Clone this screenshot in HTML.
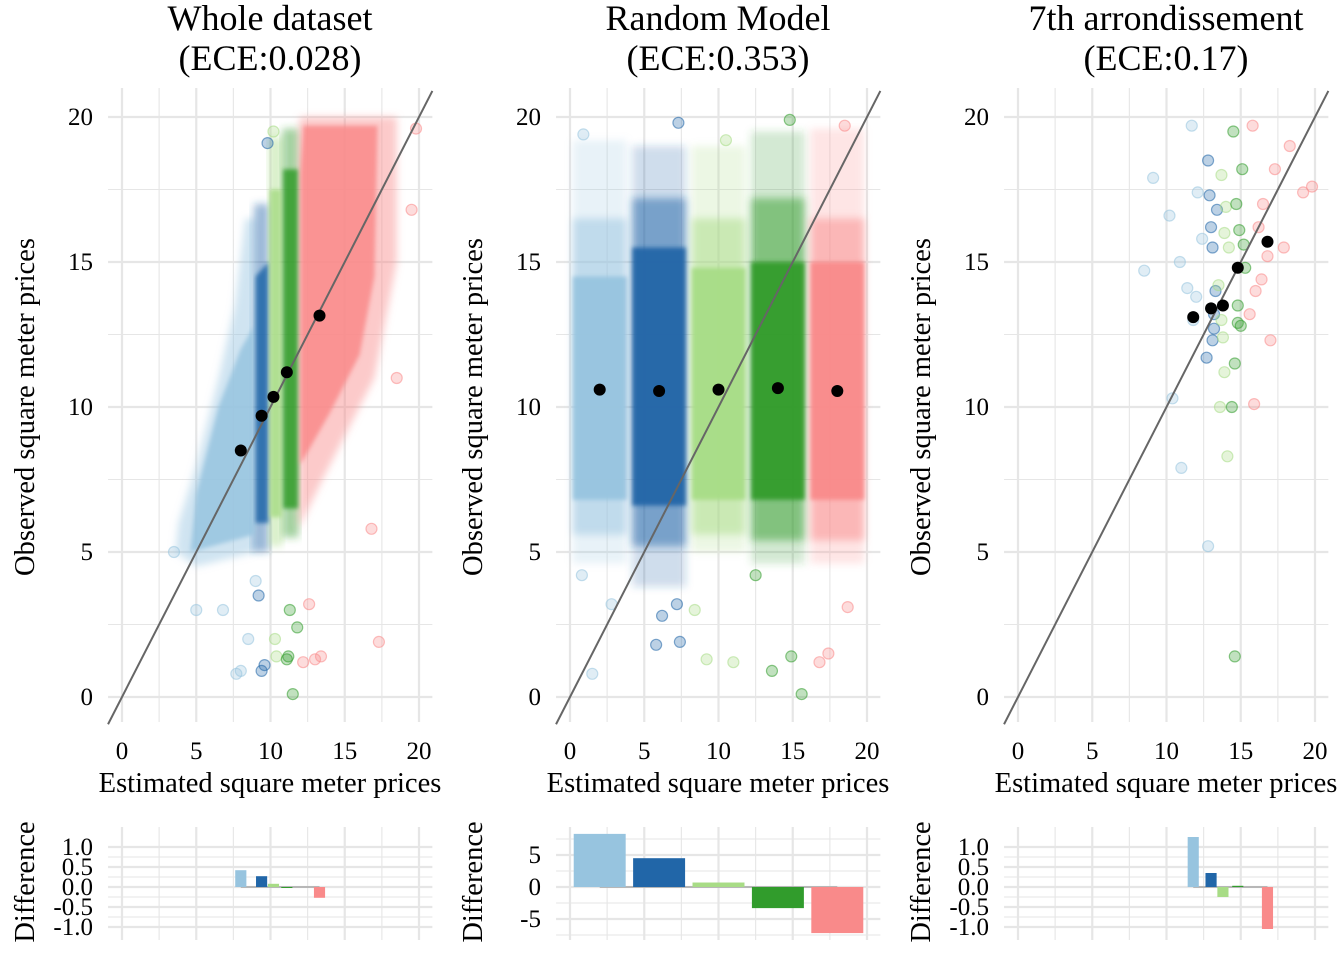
<!DOCTYPE html>
<html><head><meta charset="utf-8">
<style>
body{margin:0;background:#fff;}
svg{display:block;font-family:"Liberation Serif",serif;}
</style></head>
<body>
<svg id="chart" width="1344" height="960" viewBox="0 0 1344 960">
<defs>
<filter id="soft" x="-20%" y="-20%" width="140%" height="140%"><feGaussianBlur stdDeviation="4"/></filter>
<filter id="soft2" x="-20%" y="-20%" width="140%" height="140%"><feGaussianBlur stdDeviation="2"/></filter>
</defs>
</svg>
<script>
// ---------- data ----------
const panelTitles = ["Whole dataset","Random Model","7th arrondissement"];
const panelECE = ["(ECE:0.028)","(ECE:0.353)","(ECE:0.17)"];
const binColors = ["#97c4df","#2166a8","#a8dc86","#319c2c","#f98a8a"];
const xTicks = [0,5,10,15,20];
const yTicks = [0,5,10,15,20];
const meanX1 = [8.0,9.4,10.2,11.1,13.3];
const meanY1 = [8.5,9.7,10.35,11.2,13.15];
const meanX2 = [2,6,10,14,18];
const meanY2 = [10.6,10.55,10.6,10.65,10.55];
const meanX3 = [11.8,13.0,13.8,14.8,16.8];
const meanY3 = [13.1,13.4,13.5,14.8,15.7];
const diff1 = [0.42,0.27,0.08,-0.02,-0.27];
const diff2 = [8.3,4.5,0.7,-3.3,-7.2];
const diff3 = [1.25,0.35,-0.25,0.03,-1.05];
const diffTicks13 = [1.0,0.5,0.0,-0.5,-1.0];
const diffTicks2 = [5,0,-5];
// panel 1 cloud outlines (estimated, observed)
const cloud1 = [
 [[3.6,5.0],[5.0,4.5],[9.0,5.0],[9.0,16.5],[8.3,16.5],[7.6,13.5],[6.5,11.0],[5.0,8.0],[3.8,6.0]],
 [[8.8,5.0],[9.9,5.0],[9.9,17.0],[8.9,17.0]],
 [[9.9,5.2],[10.8,5.2],[10.8,19.3],[9.9,19.3]],
 [[10.8,5.5],[11.9,5.5],[11.9,19.6],[10.8,19.6]],
 [[11.9,5.8],[13.5,7.5],[15.0,9.0],[17.0,11.0],[18.5,15.0],[18.5,20.0],[12.0,20.0],[11.9,19.5]]
];
const cloud1core = [
 [[4.6,5.0],[8.9,5.6],[8.9,12.8],[8.0,12.0],[6.5,10.0],[5.0,7.0]],
 [[9.0,6.0],[9.85,6.0],[9.85,15.0],[9.0,14.5]],
 [[9.95,6.2],[10.75,6.2],[10.75,17.5],[9.95,17.5]],
 [[10.85,6.5],[11.85,6.5],[11.85,18.2],[10.85,18.2]],
 [[12.0,8.0],[14.0,9.8],[16.0,11.8],[17.0,14.5],[17.2,19.7],[12.2,19.7],[12.0,18.0]]
];
const bin2Lo = [0,4,8,12,16];
const bin2Hi = [4,8,12,16,20];
const core2Lo = [6.8,6.6,6.8,6.8,6.8];
const core2Hi = [14.5,15.5,14.8,15.0,15.0];
const mid2Lo = [5.6,5.2,5.6,5.4,5.4];
const mid2Hi = [16.5,17.2,16.5,17.2,16.5];
const fringe2Lo = [4.6,3.8,5.0,4.6,4.6];
const fringe2Hi = [19.2,19.0,19.0,19.5,19.6];
const out1Bin = [0,0,0,0,0,0,0,1,1,1,1,2,2,2,3,3,3,3,3,4,4,4,4,4,4,4,4,4];
const out1X =   [3.5,5.0,6.8,8.5,8.0,7.7,9.0,9.4,9.6,9.2,9.8,10.3,10.4,10.2,11.1,11.3,11.8,11.5,11.2,12.2,12.6,13.4,17.3,16.8,18.5,19.8,19.5,13.0];
const out1Y =   [5.0,3.0,3.0,2.0,0.9,0.8,4.0,0.9,1.1,3.5,19.1,2.0,1.4,19.5,1.3,3.0,2.4,0.1,1.4,1.2,3.2,1.4,1.9,5.8,11.0,19.6,16.8,1.3];
const out2Bin = [0,0,0,1,1,1,1,2,2,2,3,3,3,3,4,4,4,1,0,2,3,4];
const out2X =   [1.5,2.8,0.8,5.8,6.2,7.4,7.2,9.2,11.0,8.4,13.6,14.9,15.6,12.5,16.8,18.7,17.4,7.3,0.9,10.5,14.8,18.5];
const out2Y =   [0.8,3.2,4.2,1.8,2.8,1.9,3.2,1.3,1.2,3.0,0.9,1.4,0.1,4.2,1.2,3.1,1.5,19.8,19.4,19.2,19.9,19.7];
const p3Bin = [0,0,0,0,0,0,0,0,0,0,0,0,0,1,1,1,1,1,1,1,1,1,1,2,2,2,2,2,2,2,2,2,2,3,3,3,3,3,3,3,3,3,3,3,3,4,4,4,4,4,4,4,4,4,4,4,4,4,4];
const p3X = [8.5,9.1,10.2,11.7,12.1,12.4,11.4,10.9,12.0,10.4,11.0,12.8,11.8, 12.8,13.0,13.1,13.3,12.9,13.2,12.7,13.1,13.4,13.2, 13.7,13.9,14.1,13.6,13.5,14.2,13.8,13.9,14.0,13.7, 14.5,14.7,15.1,14.9,15.3,14.6,15.0,14.4,14.8,15.2,14.6,14.8, 15.8,16.5,17.3,18.3,19.2,16.2,17.9,16.0,15.6,17.0,15.9,19.8,16.8,16.4];
const p3Y = [14.7,17.9,16.6,19.7,17.4,15.8,14.1,15.0,13.8,10.3,7.9,5.2,13.0, 18.5,16.2,15.5,14.0,17.3,12.7,11.7,12.3,16.8,13.2, 18.0,16.0,8.3,10.0,14.2,15.5,12.4,11.2,16.9,13.0, 19.5,17.0,18.2,16.1,14.8,1.4,12.8,10.0,13.5,15.6,11.5,12.9, 19.7,17.0,18.2,19.0,17.4,16.2,15.5,14.0,13.2,12.3,10.1,17.6,15.2,14.4];

// ---------- rendering ----------
const NS = "http://www.w3.org/2000/svg";
const svg = document.getElementById("chart");
function mk(tag, attrs, parent){
  const e = document.createElementNS(NS, tag);
  for (const k in attrs) e.setAttribute(k, attrs[k]);
  (parent||svg).appendChild(e);
  return e;
}
const PW = 448;
function sx(p, v){ return 122 + p*PW + v*14.85; }
function sy(v){ return 697 - v*29; }
const mainX = [-0.94, 20.9], mainY = [-0.86, 21.0];
const meansX = [meanX1, meanX2, meanX3];
const meansY = [meanY1, meanY2, meanY3];
const diffs = [diff1, diff2, diff3];

function dot(p, x, y, b, parent){
  const c = mk("circle",{cx:sx(p,x),cy:sy(y),r:5.5,fill:binColors[b],"fill-opacity":0.3,stroke:binColors[b],"stroke-opacity":0.55,"stroke-width":1.2},parent);
  
  
}

for (let p=0; p<3; p++){
  const g = mk("g", {});
  
  
  const cx = 270 + p*PW;
  const t1 = mk("text",{x:cx,y:30,"text-anchor":"middle","font-size":36,fill:"#000"},g);
  t1.textContent = panelTitles[p];
  
  
  const t2 = mk("text",{x:cx,y:70,"text-anchor":"middle","font-size":36,fill:"#000"},g);
  t2.textContent = panelECE[p];
  
  
  const x0 = sx(p,mainX[0]), x1 = sx(p,mainX[1]);
  const y0 = sy(mainY[1]), y1 = sy(mainY[0]);
  for (let v=0; v<=20; v+=2.5){
    const major = v%5===0;
    mk("line",{x1:sx(p,v),x2:sx(p,v),y1:y0,y2:y1,stroke:"#e6e6e6","stroke-width":major?2.2:1.1},g);
    mk("line",{x1:x0,x2:x1,y1:sy(v),y2:sy(v),stroke:"#e6e6e6","stroke-width":major?2.2:1.1},g);
  }
  xTicks.forEach(v=>{
    const t = mk("text",{x:sx(p,v),y:759,"text-anchor":"middle","font-size":25,fill:"#000"},g);
    t.textContent = v;
    
    
  });
  yTicks.forEach(v=>{
    const t = mk("text",{x:93+p*PW,y:sy(v)+8,"text-anchor":"end","font-size":25,fill:"#000"},g);
    t.textContent = v;
    
    
  });
  const xt = mk("text",{x:cx,y:792,"text-anchor":"middle","font-size":28.5,fill:"#000"},g);
  xt.textContent = "Estimated square meter prices";
  
  
  const yt = mk("text",{x:0,y:0,"text-anchor":"middle","font-size":28.5,fill:"#000",transform:`translate(${34+p*PW},407) rotate(-90)`},g);
  yt.textContent = "Observed square meter prices";
  
  

  const cg = mk("g",{},g);
  
  
  if (p===0){
    for (let b=0;b<5;b++){
      const pts = cloud1[b].map(q=>sx(p,q[0])+","+sy(q[1])).join(" ");
      const poly = mk("polygon",{points:pts,fill:binColors[b],"fill-opacity":0.45,filter:"url(#soft)"},cg);
      
      
    }
    for (let b=0;b<5;b++){
      const pts2 = cloud1core[b].map(q=>sx(p,q[0])+","+sy(q[1])).join(" ");
      const core = mk("polygon",{points:pts2,fill:binColors[b],"fill-opacity":0.85,filter:"url(#soft2)"},cg);
      
      
    }
    out1X.forEach((v,i)=>dot(p,v,out1Y[i],out1Bin[i],cg));
  } else if (p===1){
    for (let b=0;b<5;b++){
      const xa = sx(p,bin2Lo[b])+3, w = sx(p,bin2Hi[b])-sx(p,bin2Lo[b])-6;
      const f = mk("rect",{x:xa,y:sy(fringe2Hi[b]),width:w,height:sy(fringe2Lo[b])-sy(fringe2Hi[b]),fill:binColors[b],"fill-opacity":0.22,filter:"url(#soft)"},cg);
      
      
      const m = mk("rect",{x:xa,y:sy(mid2Hi[b]),width:w,height:sy(mid2Lo[b])-sy(mid2Hi[b]),fill:binColors[b],"fill-opacity":0.5,filter:"url(#soft)"},cg);
      
      
      const c = mk("rect",{x:xa,y:sy(core2Hi[b]),width:w,height:sy(core2Lo[b])-sy(core2Hi[b]),fill:binColors[b],"fill-opacity":0.95,filter:"url(#soft2)"},cg);
      
      
    }
    out2X.forEach((v,i)=>dot(p,v,out2Y[i],out2Bin[i],cg));
  } else {
    p3X.forEach((v,i)=>dot(p,v,p3Y[i],p3Bin[i],cg));
  }
  const dl = mk("line",{x1:sx(p,-0.94),y1:sy(-0.94),x2:sx(p,20.9),y2:sy(20.9),stroke:"#666","stroke-width":2},g);
  
  
  meansX[p].forEach((v,i)=>{
    const c = mk("circle",{cx:sx(p,v),cy:sy(meansY[p][i]),r:6,fill:"#000"},g);
    
    
  });

  // ---- difference subplot ----
  const dg = mk("g",{},g);
  
  
  const scale = p===1 ? 6.4 : 40;
  const dy = v => 887 - v*scale;
  for (let v=0; v<=20; v+=2.5){
    mk("line",{x1:sx(p,v),x2:sx(p,v),y1:827,y2:940,stroke:"#e6e6e6","stroke-width":v%5===0?2.2:1.1},dg);
  }
  const ticks = p===1 ? diffTicks2 : diffTicks13;
  const minorT = p===1 ? [7.5,2.5,-2.5,-7.5] : [0.75,0.25,-0.25,-0.75];
  minorT.forEach(v=>mk("line",{x1:x0,x2:x1,y1:dy(v),y2:dy(v),stroke:"#e6e6e6","stroke-width":1.1},dg));
  ticks.forEach(v=>{
    mk("line",{x1:x0,x2:x1,y1:dy(v),y2:dy(v),stroke:"#e6e6e6","stroke-width":2.2},dg);
    const t = mk("text",{x:93+p*PW,y:dy(v)+8,"text-anchor":"end","font-size":25,fill:"#000"},dg);
    t.textContent = p===1 ? v : v.toFixed(1);
    
    
  });
  const dt = mk("text",{x:0,y:0,"text-anchor":"middle","font-size":28.5,fill:"#000",transform:`translate(${34+p*PW},882) rotate(-90)`},dg);
  dt.textContent = "Difference";
  
  
  const bw = p===1 ? 3.5 : 0.75;
  mk("line",{x1:sx(p,meansX[p][0]),x2:sx(p,meansX[p][4]),y1:887,y2:887,stroke:"#888","stroke-width":1},dg);
  diffs[p].forEach((v,i)=>{
    const xc = meansX[p][i];
    const top = Math.min(dy(v),887), h = Math.abs(dy(v)-887);
    const r = mk("rect",{x:sx(p,xc-bw/2),y:top,width:bw*14.85,height:Math.max(h,1),fill:binColors[i]},dg);
    
    
  });
}
</script>
</body></html>
